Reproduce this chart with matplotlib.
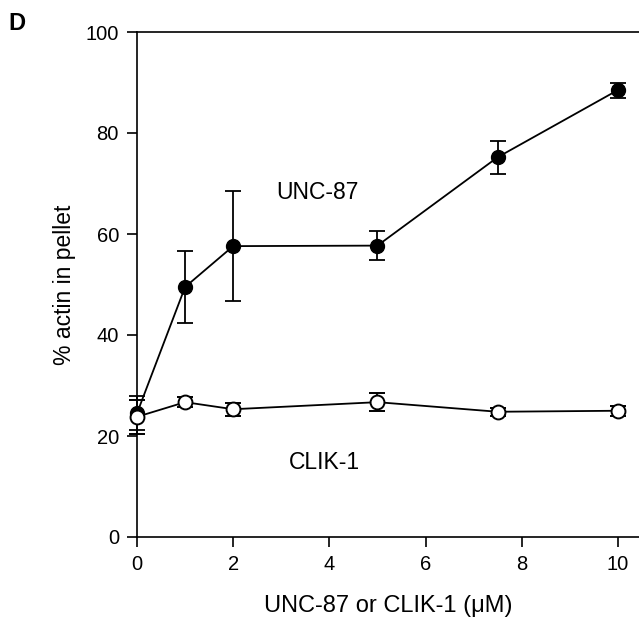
import matplotlib.pyplot as plt

plt.rcParams['font.family'] = ['Liberation Sans', 'DejaVu Sans']

# concentracion (uM)
conc = [0, 1, 2, 5, 7.5, 10]
unc87 = [24.5, 49.5, 57.6, 57.7, 75.2, 88.5]
unc87_err = [3.4, 7.1, 10.9, 2.8, 3.3, 1.5]
clik1 = [23.8, 26.7, 25.3, 26.7, 24.8, 25.0]
clik1_err = [3.4, 1.0, 1.3, 1.8, 0.8, 1.0]

fig = plt.figure(figsize=(6.39, 6.25), dpi=100)
ax = fig.add_axes([137 / 639, 88 / 625, 502 / 639, 505 / 625])

ax.errorbar(conc, unc87, yerr=unc87_err, fmt='o-', color='black',
            markerfacecolor='black', markersize=10, linewidth=1.3,
            elinewidth=1.3, capsize=6, capthick=1.3, clip_on=False, zorder=3)
ax.errorbar(conc, clik1, yerr=clik1_err, fmt='o-', color='black',
            markerfacecolor='white', markeredgewidth=1.4, markersize=10,
            linewidth=1.3, elinewidth=1.3, capsize=6, capthick=1.3,
            clip_on=False, zorder=4)

ax.set_xlim(0, 10.44)
ax.set_ylim(0, 100)
ax.set_xticks([0, 2, 4, 6, 8, 10])
ax.set_yticks([0, 20, 40, 60, 80, 100])
ax.tick_params(direction='out', length=7, width=1.2, labelsize=14.5, pad=6)
ax.spines['right'].set_visible(False)
for s in ['left', 'bottom', 'top']:
    ax.spines[s].set_linewidth(1.2)

ax.set_xlabel('UNC-87 or CLIK-1 (\u03bcM)', fontsize=17, labelpad=15)
ax.set_ylabel('% actin in pellet', fontsize=16.5, labelpad=7)

ax.text(3.75, 68.2, 'UNC-87', fontsize=16.5, ha='center', va='center')
ax.text(3.9, 14.8, 'CLIK-1', fontsize=16.5, ha='center', va='center')
fig.text(17 / 639, 1 - 24 / 625, 'D', fontsize=17, fontweight='bold',
         ha='center', va='center')

plt.savefig('out.png', dpi=100)
